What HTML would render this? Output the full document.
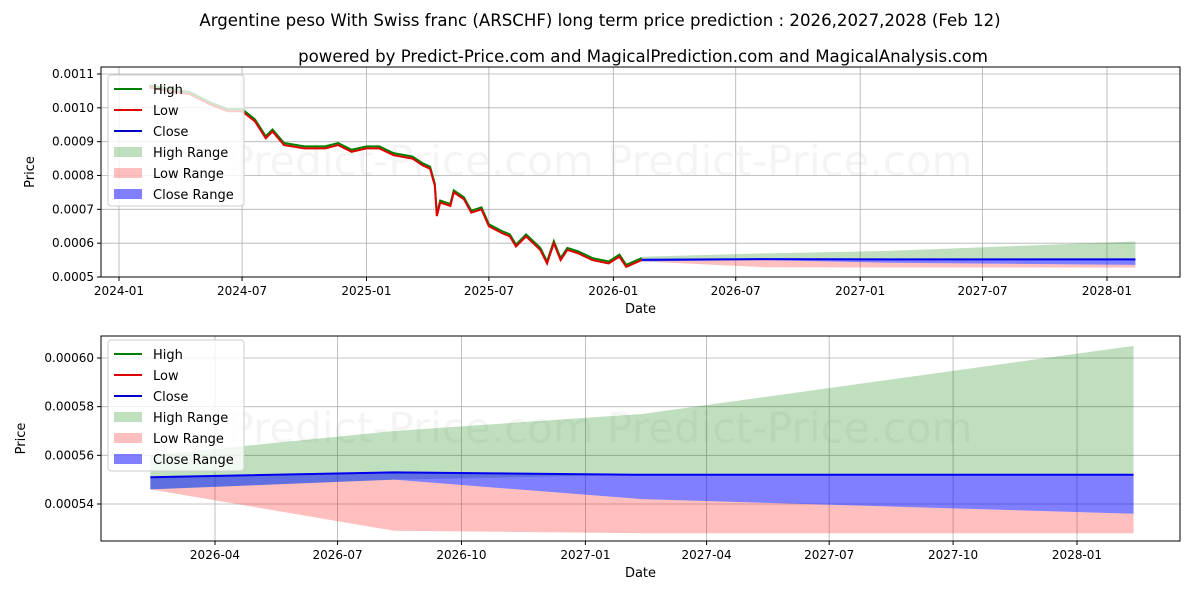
<!DOCTYPE html>
<html><head><meta charset="utf-8">
<style>
body{margin:0;background:#fff;font-family:"Liberation Sans","DejaVu Sans",sans-serif}
svg text{font-family:"DejaVu Sans","Liberation Sans",sans-serif}
</style></head>
<body>
<svg id="c" width="1200" height="600" viewBox="0 0 1200 600" xmlns="http://www.w3.org/2000/svg">
<text x="600" y="26" text-anchor="middle" font-size="16.6">Argentine peso With Swiss franc (ARSCHF) long term price prediction : 2026,2027,2028 (Feb 12)</text>
<text x="643" y="62" text-anchor="middle" font-size="16.6">powered by Predict-Price.com and MagicalPrediction.com and MagicalAnalysis.com</text>
</svg>
<script>
// ---- data ----
const histDates=["2024-02-15","2024-03-15","2024-04-15","2024-05-15","2024-06-10","2024-07-01","2024-07-20","2024-08-05","2024-08-15","2024-09-01","2024-10-01","2024-11-01","2024-11-20","2024-12-10","2025-01-01","2025-01-20","2025-02-10","2025-03-10","2025-03-25","2025-04-05","2025-04-12","2025-04-15","2025-04-20","2025-05-05","2025-05-10","2025-05-25","2025-06-05","2025-06-20","2025-07-01","2025-07-20","2025-08-01","2025-08-10","2025-08-25","2025-09-15","2025-09-25","2025-10-05","2025-10-15","2025-10-25","2025-11-10","2025-12-01","2025-12-25","2026-01-10","2026-01-20","2026-02-12"];
const histValues=[0.00106,0.00105,0.00104,0.00101,0.00099,0.00099,0.00096,0.00091,0.00093,0.00089,0.00088,0.00088,0.00089,0.00087,0.00088,0.00088,0.00086,0.00085,0.00083,0.00082,0.00077,0.00068,0.00072,0.00071,0.00075,0.00073,0.00069,0.00070,0.00065,0.00063,0.00062,0.00059,0.00062,0.00058,0.00054,0.00060,0.00055,0.00058,0.00057,0.00055,0.00054,0.00056,0.00053,0.00055];
const fcDates=["2026-02-12","2026-08-12","2027-02-12","2028-02-12"];
const fcClose=[0.000551,0.000553,0.000552,0.000552];
const fcHigh=[0.000560,0.000570,0.000577,0.000605];
const fcHighLower=[0.000546,0.000550,0.000552,0.000552];
const fcCloseLower=[0.000546,0.000550,0.000542,0.000536];
const fcLowBottom=[0.000546,0.000529,0.000528,0.000528];
const topTicks=["2024-01","2024-07","2025-01","2025-07","2026-01","2026-07","2027-01","2027-07","2028-01"];
const topYTicks=[0.0005,0.0006,0.0007,0.0008,0.0009,0.0010,0.0011];
const botTicks=["2026-04","2026-07","2026-10","2027-01","2027-04","2027-07","2027-10","2028-01"];
const botYTicks=[0.00054,0.00056,0.00058,0.00060];

const svg=document.getElementById('c');
const NS="http://www.w3.org/2000/svg";
function el(t,a,p){const e=document.createElementNS(NS,t);for(const k in a)e.setAttribute(k,a[k]);(p||svg).appendChild(e);return e;}
const day=s=>{const p=s.split('-');return Date.UTC(+p[0],+p[1]-1,+(p[2]||1))/864e5;};

function panel(o){
  const g=el('g',{});
  
  
  const X=d=>o.x0+(day(d)-o.d0)*(o.x1-o.x0)/(o.d1-o.d0);
  const Y=v=>o.y0+(v-o.v0)*(o.y1-o.y0)/(o.v1-o.v0);
  const w1=el('text',{x:(o.L+o.R)/2-40,y:o.T+(o.B-o.T)*0.45+14,'text-anchor':'middle','font-size':42,fill:'#000','fill-opacity':0.045},g);
  w1.textContent="Predict-Price.com     Predict-Price.com";
  
  
  o.xt.forEach(t=>{const x=X(t);
    el('line',{x1:x,x2:x,y1:o.T,y2:o.B,stroke:'#b0b0b0','stroke-width':0.8},g);
    el('line',{x1:x,x2:x,y1:o.B,y2:o.B+4,stroke:'#000'},g);
    const tx=el('text',{x:x,y:o.B+18,'text-anchor':'middle','font-size':12},g);tx.textContent=t;
    
    });
  o.yt.forEach(v=>{const y=Y(v);
    el('line',{x1:o.L,x2:o.R,y1:y,y2:y,stroke:'#b0b0b0','stroke-width':0.8},g);
    el('line',{x1:o.L-4,x2:o.L,y1:y,y2:y,stroke:'#000'},g);
    const tx=el('text',{x:o.L-7,y:y+4,'text-anchor':'end','font-size':12},g);tx.textContent=v.toFixed(o.dec);
    
    });
  const band=(lo,hi,fill,op,name)=>{let d='';fcDates.forEach((t,i)=>d+=(i?'L':'M')+X(t)+','+Y(hi[i]));
    for(let i=fcDates.length-1;i>=0;i--)d+='L'+X(fcDates[i])+','+Y(lo[i]);
    const p=el('path',{d:d+'Z',fill:fill,'fill-opacity':op},g);
    
    };
  band(fcHighLower,fcHigh,'#008000',0.25,'high-range');
  band(fcLowBottom,fcCloseLower,'#ff0000',0.25,'low-range');
  band(fcCloseLower,fcClose,'#0000ff',0.5,'close-range');
  if(o.hist){
    const pts=histDates.map((t,i)=>X(t)+','+Y(histValues[i])).join(' ');
    const hp=el('polyline',{points:histDates.map((t,i)=>X(t)+','+Y(histValues[i]+0.000006)).join(' '),fill:'none',stroke:'#008000','stroke-width':2},g);
    
    
    const lp=el('polyline',{points:pts,fill:'none',stroke:'#e00000','stroke-width':2},g);
    
    
  }
  const cl=el('polyline',{points:fcDates.map((t,i)=>X(t)+','+Y(fcClose[i])).join(' '),fill:'none',stroke:'#0000ee','stroke-width':2},g);
  
  
  el('rect',{x:o.L,y:o.T,width:o.R-o.L,height:o.B-o.T,fill:'none',stroke:'#000','stroke-width':1},g);
  const xl=el('text',{x:(o.L+o.R)/2,y:o.B+36,'text-anchor':'middle','font-size':13},g);xl.textContent='Date';
  
  
  const yl=el('text',{x:0,y:0,'text-anchor':'middle','font-size':13,transform:`translate(${o.ylx},${(o.T+o.B)/2}) rotate(-90)`},g);yl.textContent='Price';
  
  
  const lg=el('g',{},g);
  
  
  const lx=o.L+7,ly=o.T+o.lgy;
  el('rect',{x:lx,y:ly,width:136,height:131,rx:3,fill:'#fff','fill-opacity':0.8,stroke:'#ccc'},lg);
  const items=[['High','#008000',0],['Low','#e00000',0],['Close','#0000cc',0],['High Range','#008000',0.25],['Low Range','#ff0000',0.25],['Close Range','#0000ff',0.5]];
  items.forEach((it,i)=>{const yy=ly+14+i*21;
    if(it[2]===0)el('line',{x1:lx+6,x2:lx+34,y1:yy,y2:yy,stroke:it[1],'stroke-width':2},lg);
    else el('rect',{x:lx+6,y:yy-5,width:28,height:10,fill:it[1],'fill-opacity':it[2]},lg);
    const t=el('text',{x:lx+45,y:yy+5,'font-size':13},lg);t.textContent=it[0];
    
    });
}
panel({name:'top-panel',L:101,R:1180,T:67,B:277,x0:119,x1:1107,d0:day('2024-01-01'),d1:day('2028-01-01'),y0:277,y1:74,v0:0.0005,v1:0.0011,xt:topTicks,yt:topYTicks,dec:4,hist:true,ylx:34,lgy:8});
panel({name:'bottom-panel',L:101,R:1180,T:336,B:541,x0:215,x1:1077,d0:day('2026-04-01'),d1:day('2028-01-01'),y0:504,y1:358,v0:0.00054,v1:0.00060,xt:botTicks,yt:botYTicks,dec:5,hist:false,ylx:25,lgy:4});
</script>
</body></html>
